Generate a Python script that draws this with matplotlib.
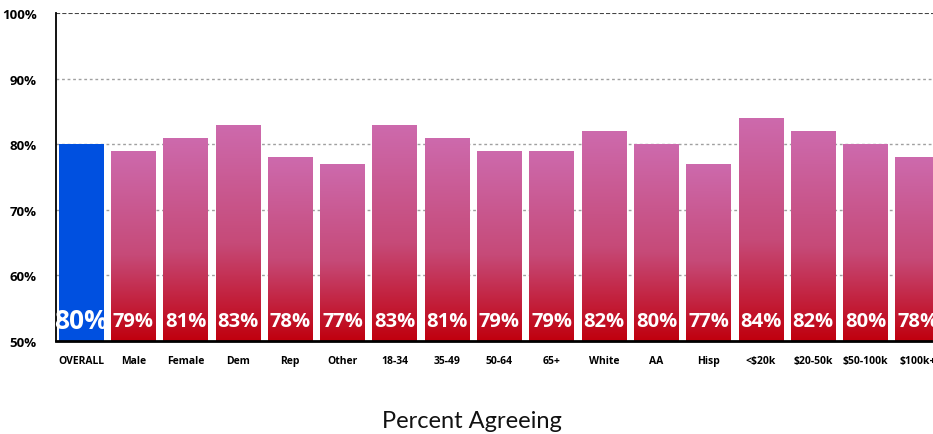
import numpy as np
import matplotlib.pyplot as plt
from matplotlib.colors import LinearSegmentedColormap

categories = ["OVERALL", "Male", "Female", "Dem", "Rep", "Other", "18-34", "35-49",
              "50-64", "65+", "White", "AA", "Hisp", "<$20k", "$20-50k", "$50-100k", "$100k+"]
values = [80, 79, 81, 83, 78, 77, 83, 81, 79, 79, 82, 80, 77, 84, 82, 80, 78]
y_ticks = [50, 60, 70, 80, 90, 100]

plt.rcParams['font.family'] = ['Open Sans', 'DejaVu Sans']

fig = plt.figure(figsize=(9.33, 4.35), dpi=100)
ax = fig.add_axes([56 / 933, (435 - 342) / 435, 887 / 933, 328 / 435])

# pink at the top of each bar fading into red at the base
grad = LinearSegmentedColormap.from_list(
    "bar", [(0.0, "#c0000e"), (0.45, "#c64a78"), (1.0, "#cd6aad")])
gvals = np.linspace(0, 1, 256).reshape(-1, 1)

x = np.arange(len(categories))
width = 0.86
bars = ax.bar(x, np.array(values) - 50, width=width, bottom=50, color="none",
              edgecolor="none", zorder=3)

for i, (b, v) in enumerate(zip(bars, values)):
    if i == 0:
        b.set_facecolor("#0050e0")
    else:
        im = ax.imshow(gvals, cmap=grad, origin="lower", aspect="auto",
                       extent=(b.get_x(), b.get_x() + width, 50, v), zorder=3)
        im.set_clip_path(b)
    ax.text(i, 53.1, f"{v}%", ha="center", va="center", color="white",
            fontsize=19 if i == 0 else 14.5, fontweight="bold", zorder=5)

ax.set_xlim(-0.48, len(categories) - 0.52)
ax.set_ylim(50, 100)
ax.set_yticks(y_ticks)
ax.set_yticklabels([f"{t}%" for t in y_ticks], fontsize=9.5, fontweight="bold")
ax.set_xticks(x)
ax.set_xticklabels(categories, fontsize=7.5, fontweight="bold")
ax.tick_params(length=0, pad=10)
ax.tick_params(axis="y", pad=14)

for t in [60, 70, 80, 90]:
    ax.axhline(t, color="#a0a0a0", linestyle=(0, (2, 2)), linewidth=1, zorder=1)
ax.axhline(100, color="#444444", linestyle=(0, (2, 1)), linewidth=1.5, zorder=1)

ax.spines["top"].set_visible(False)
ax.spines["right"].set_visible(False)
ax.spines["left"].set_linewidth(1.3)
ax.spines["bottom"].set_linewidth(2)
ax.spines["bottom"].set_zorder(6)

fig.text(472 / 933, 1 - 422 / 435, "Percent Agreeing", ha="center", va="center",
         fontsize=17, color="#111111", family=["Lato", "DejaVu Sans"])

fig.savefig("out.png", dpi=100)
